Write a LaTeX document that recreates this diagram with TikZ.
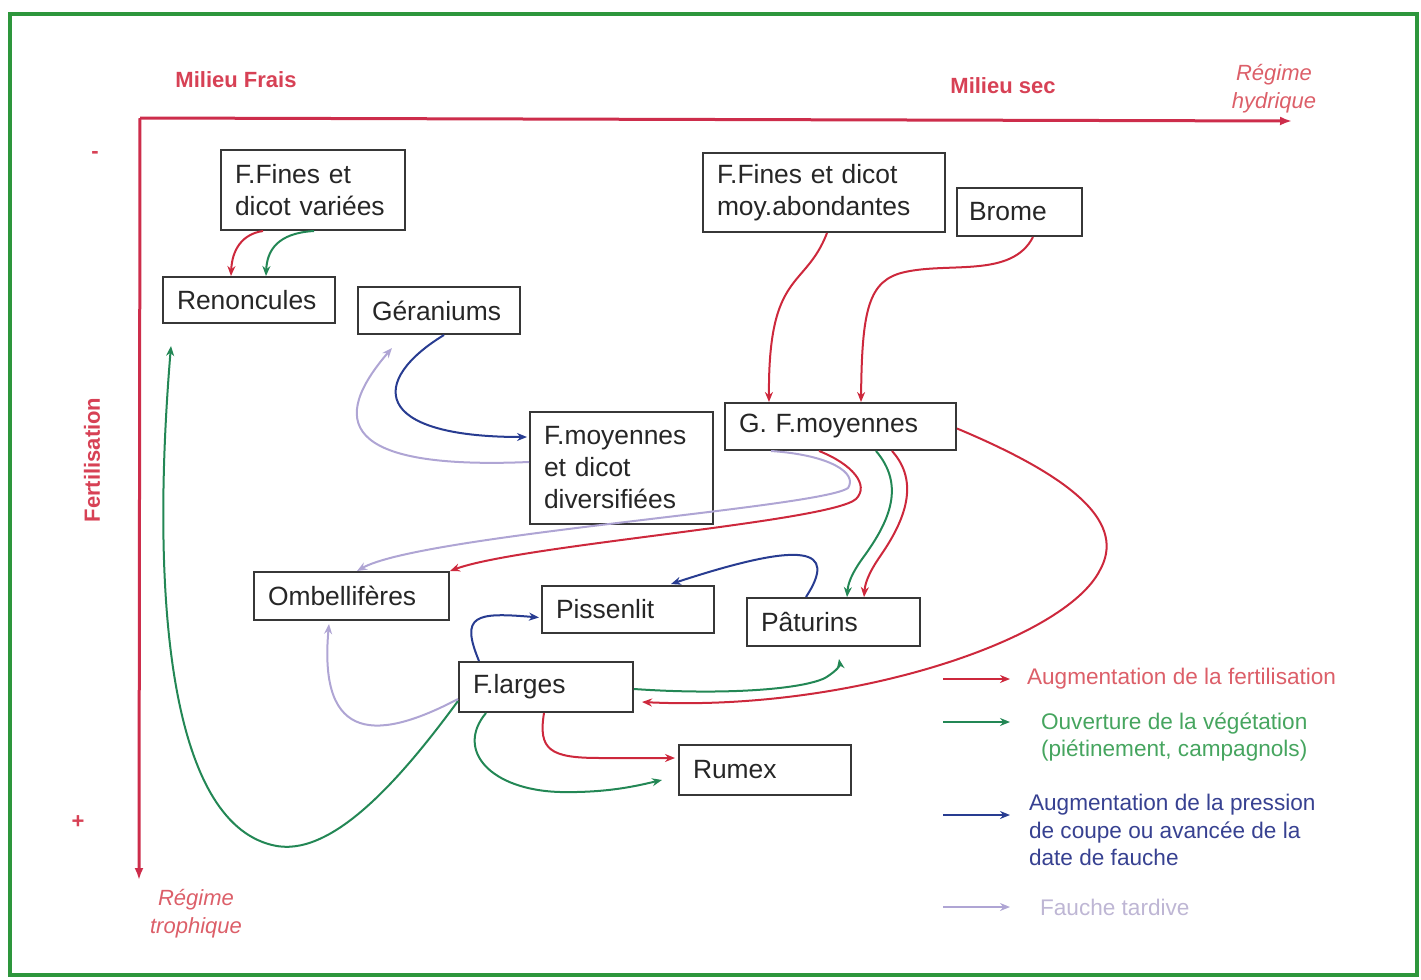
\documentclass[tikz,border=0pt]{standalone}
\usepackage{fontspec}
\setmainfont{Liberation Sans}
\usetikzlibrary{arrows.meta,calc}
\definecolor{framegreen}{RGB}{45,150,60}
\definecolor{axisred}{RGB}{205,45,75}
\definecolor{labred}{RGB}{215,65,85}
\definecolor{softred}{RGB}{220,95,105}
\definecolor{cred}{RGB}{205,40,60}
\definecolor{cgreen}{RGB}{35,135,85}
\definecolor{cblue}{RGB}{40,60,145}
\definecolor{clav}{RGB}{175,165,212}
\definecolor{tgreen}{RGB}{70,165,95}
\definecolor{tblue}{RGB}{55,65,145}
\definecolor{tlav}{RGB}{190,182,212}
\definecolor{boxgray}{RGB}{55,55,55}
\begin{document}
\begin{tikzpicture}[x=0.5pt,y=-0.5pt,
  box/.style={draw=boxgray, line width=1pt, fill=white, inner xsep=7pt, inner ysep=2pt,
    align=left, font=\fontsize{13.2}{16}\selectfont, text=black!85},
  conn/.style={line width=1pt, -{Stealth[length=5pt,width=4pt]}},
  redarr/.style={conn, draw=cred},
  greenarr/.style={conn, draw=cgreen},
  bluearr/.style={conn, draw=cblue},
  lavarr/.style={conn, draw=clav},
  axislab/.style={font=\fontsize{11}{13}\selectfont\bfseries, text=labred},
  regime/.style={font=\fontsize{11}{14}\selectfont\itshape, text=softred, align=center},
  legtext/.style={anchor=west, align=left, font=\fontsize{11.3}{13.6}\selectfont}
]
\useasboundingbox (0,0) rectangle (1421,980);
\draw[framegreen, line width=2pt] (10,14) rectangle (1417,975);

% axes
\coordinate (O) at (140,118);
\coordinate (X) at (1292,121);
\coordinate (Y) at (139,880);
\draw[axisred, line width=1.5pt, -{Latex[length=6pt,width=4.5pt]}] (O) -- (X);
\draw[axisred, line width=1.5pt, -{Latex[length=6pt,width=4.5pt]}] (O) -- (Y);
\node[axislab] (mfrais) at (236,80) {Milieu Frais};
\node[axislab] (msec) at (1003,86) {Milieu sec};
\node[regime] (rhyd) at (1274,89) {Régime\\hydrique};
\node[regime] (rtro) at (196,914) {Régime\\trophique};
\node[axislab, rotate=90] (fert) at (92,460) {Fertilisation};
\node[axislab] (minus) at (95,155) {-};
\node[axislab] (plus) at (78,822) {+};

% boxes
\node[box, text width=78pt, minimum height=40pt] (ffa) at (313,190) {F.Fines et\\dicot variées};
\node[box, text width=72pt, minimum height=23pt] (ren) at (249,300) {Renoncules};
\node[box, text width=67pt, minimum height=23.5pt] (ger) at (439,310.5) {Géraniums};
\node[box, text width=107pt, minimum height=39.5pt] (ffb) at (824,192.5) {F.Fines et dicot\\moy.abondantes};
\node[box, text width=50.5pt, minimum height=24pt, inner xsep=6pt] (bro) at (1019.5,212) {Brome};
\node[box, text width=101.5pt, minimum height=23.5pt] (gfm) at (840.5,426.5) {G. F.moyennes};
\node[box, text width=77.5pt, minimum height=56pt] (fmd) at (621.5,468) {F.moyennes\\et dicot\\diversifiées};
\node[box, text width=83.5pt, minimum height=24pt] (omb) at (351.5,596) {Ombellifères};
\node[box, text width=72pt, minimum height=23.5pt] (pis) at (628,609.5) {Pissenlit};
\node[box, text width=72.5pt, minimum height=24pt] (pat) at (833.5,622) {Pâturins};
\node[box, text width=73pt, minimum height=25pt] (fla) at (546,687) {F.larges};
\node[box, text width=72pt, minimum height=25pt] (rum) at (765,770) {Rumex};

% connectors
\draw[redarr] ($(ffa.south west)+(43,0)$) .. controls (242,234) and (232,250) .. ($(ren.north west)+(69,0)$);
\draw[greenarr] ($(ffa.south west)+(94,0)$) .. controls (278,233) and (267,250) .. ($(ren.north west)+(104,0)$);

\draw[redarr] ($(ffb.south west)+(125,0)$) .. controls (805,290) and (768,270) .. ($(gfm.north west)+(45,0)$);
\draw[redarr] ($(bro.south west)+(77,0)$) .. controls (1012,278) and (950,262) .. (905,272)
   .. controls (868,280) and (862,310) .. ($(gfm.north west)+(137,0)$);

\draw[lavarr] ($(gfm.south west)+(47,0)$) .. controls (830,455) and (858,473) .. (848,488)
   .. controls (820,508) and (420,535) .. ($(omb.north west)+(104,0)$);
\draw[redarr] ($(gfm.south west)+(95,0)$) .. controls (852,464) and (870,485) .. (856,499)
   .. controls (830,522) and (520,545) .. (omb.north east);

\draw[greenarr] ($(gfm.south west)+(152,0)$) .. controls (905,485) and (890,520) .. (865,555)
   .. controls (850,575) and (848,585) .. ($(pat.north west)+(101,0)$);
\draw[redarr] ($(gfm.south west)+(168,0)$) .. controls (920,482) and (905,520) .. (881,555)
   .. controls (867,575) and (865,585) .. ($(pat.north west)+(118,0)$);

\draw[redarr] ($(gfm.east)+(0,2)$) .. controls (1080,480) and (1125,525) .. (1100,570)
   .. controls (1065,640) and (850,712) .. ($(fla.east)+(8,15)$);

\draw[greenarr] ($(fla.east)+(0,2)$) .. controls (720,695) and (800,690) .. (825,678)
   .. controls (838,670) and (840,665) .. ($(pat.south west)+(93,12)$);

\draw[redarr] ($(fla.south west)+(86,0)$) .. controls (538,750) and (550,758) .. (600,758)
   -- ($(rum.west)+(-3,-12)$);
\draw[greenarr] ($(fla.south west)+(28,0)$) .. controls (455,750) and (490,790) .. (560,792)
   .. controls (610,793) and (640,785) .. ($(rum.west)+(-16,10)$);

\draw[greenarr] ($(fla.west)+(0,14)$) .. controls (400,780) and (330,860) .. (272,845)
   .. controls (170,820) and (150,600) .. ($(ren.south west)+(9,22)$);
\draw[lavarr] ($(fla.west)+(0,12)$) .. controls (380,740) and (318,745) .. ($(omb.south west)+(76,3)$);

\draw[bluearr] ($(ger.south west)+(87,0)$) .. controls (370,380) and (370,437) .. ($(fmd.west)+(-2,-31)$);
\draw[lavarr] ($(fmd.west)+(0,-6)$) .. controls (340,470) and (330,420) .. ($(ger.south west)+(35,13)$);

\draw[bluearr] ($(pat.north west)+(60,0)$) .. controls (838,548) and (805,540) .. ($(pis.north east)+(-44,-1)$);
\draw[bluearr] ($(fla.north west)+(21,0)$) .. controls (460,615) and (475,612) .. ($(pis.west)+(-2,8)$);

% legend
\coordinate (l1a) at (943,679); \coordinate (l1b) at (1010,679);
\coordinate (l2a) at (943,722); \coordinate (l2b) at (1010,722);
\coordinate (l3a) at (943,815); \coordinate (l3b) at (1010,815);
\coordinate (l4a) at (943,907); \coordinate (l4b) at (1010,907);
\draw[redarr] (l1a) -- (l1b);
\draw[greenarr] (l2a) -- (l2b);
\draw[bluearr] (l3a) -- (l3b);
\draw[lavarr] (l4a) -- (l4b);
\node[legtext, text=softred] (t1) at (1020,679) {Augmentation de la fertilisation};
\node[legtext, text=tgreen] (t2) at (1034,737) {Ouverture de la végétation\\(piétinement, campagnols)};
\node[legtext, text=tblue] (t3) at (1022,830) {Augmentation de la pression\\de coupe ou avancée de la\\date de fauche};
\node[legtext, text=tlav] (t4) at (1033,907) {Fauche tardive};
\end{tikzpicture}
\end{document}
